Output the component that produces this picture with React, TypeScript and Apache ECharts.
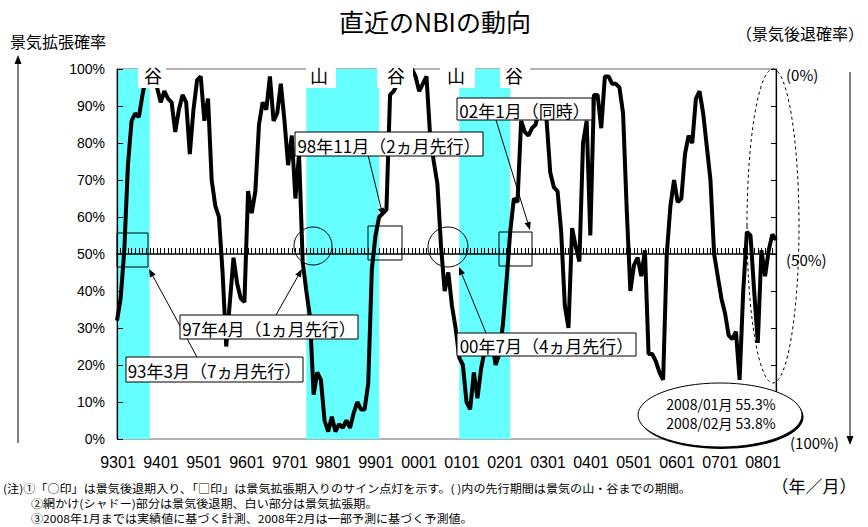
import React, { useEffect, useRef } from "react";
import * as echarts from "echarts";

// NBI monthly readings (%), one array per year
const v1993 = [32, 38, 51, 74, 86, 88, 87, 93, 98, 99, 97, 95];
const v1994 = [91, 94, 92, 91, 83, 89, 93, 91, 77, 89, 97, 98];
const v1995 = [86, 92, 70, 63, 60, 45, 25, 37, 49, 42, 38, 37];
const v1996 = [67, 61, 67, 85, 91, 89, 98, 86, 88, 96, 86, 74];
const v1997 = [82, 65, 77, 48, 40, 33, 12, 18, 16, 5, 2, 6];
const v1998 = [2, 4, 3, 5, 3, 7, 10, 8, 8, 15, 46, 55];
const v1999 = [60, 61, 62, 93, 94, 96, 97, 98, 99, 100, 98, 94];
const v2000 = [96, 98, 82, 75, 69, 52, 40, 45, 36, 30, 22, 20];
const v2001 = [10, 8, 18, 11, 19, 24, 23, 26, 20, 23, 31, 43];
const v2002 = [56, 65, 64, 86, 83, 82, 84, 85, 90, 90, 86, 72];
const v2003 = [68, 67, 56, 36, 30, 57, 52, 48, 80, 86, 55, 93];
const v2004 = [93, 84, 98, 98, 96, 96, 95, 88, 62, 40, 47, 49];
const v2005 = [44, 51, 23, 23, 21, 18, 16, 50, 63, 70, 64, 65];
const v2006 = [77, 82, 80, 92, 94, 88, 79, 70, 50, 44, 38, 34];
const v2007 = [28, 27, 29, 16, 40, 56, 55, 40, 26, 51, 44, 51];
const v2008 = [55.3, 53.8];

const yearly = [v1993, v1994, v1995, v1996, v1997, v1998, v1999, v2000,
  v2001, v2002, v2003, v2004, v2005, v2006, v2007, v2008];
const firstYear = 1993;

// recession periods (peak -> trough), shaded
const recessions: [string, string][] = [
  ["9301", "9310"],
  ["9705", "9901"],
  ["0011", "0201"],
];

// turning-point marks along the top edge
const turnLabels = [
  { text: "谷", x: 153, box: [138, 28] },
  { text: "山", x: 319, box: [306, 30] },
  { text: "谷", x: 396, box: [377, 36] },
  { text: "山", x: 456, box: [440, 35] },
  { text: "谷", x: 514, box: [500, 30] },
];

const months: string[] = [];
const values: number[] = [];
yearly.forEach((arr, k) => {
  const yy = String(firstYear + k).slice(2);
  arr.forEach((v, m) => {
    months.push(yy + String(m + 1).padStart(2, "0"));
    values.push(v);
  });
});
// January of each year, shown under the axis
const yearTicks = months.filter((m) => m.endsWith("01"));

const JP = "'Noto Sans CJK JP', 'Noto Sans', sans-serif";
const LAT = "'Liberation Sans', Arial, sans-serif";

function arrow(x1: number, y1: number, x2: number, y2: number) {
  const a = Math.atan2(y2 - y1, x2 - x1);
  const L = 8, W = 3.2;
  const bx = x2 - L * Math.cos(a), by = y2 - L * Math.sin(a);
  const px = -Math.sin(a) * W, py = Math.cos(a) * W;
  return [
    { type: "line", z: 20, shape: { x1, y1, x2: bx, y2: by }, style: { stroke: "#000", lineWidth: 1 } },
    { type: "polygon", z: 20, shape: { points: [[x2, y2], [bx + px, by + py], [bx - px, by - py]] }, style: { fill: "#000" } },
  ];
}

function callout(text: string, x: number, y: number, w: number, h: number) {
  return [
    { type: "rect", z: 21, shape: { x, y, width: w, height: h }, style: { fill: "#fff", stroke: "#000", lineWidth: 1 } },
    { type: "text", z: 22, x: x + w / 2, y: y + h / 2 + 1, style: { text, fontSize: 17, fontFamily: JP, fill: "#000", align: "center", verticalAlign: "middle" } },
  ];
}

export default function App() {
  const ref = useRef<HTMLDivElement>(null);
  useEffect(() => {
    if (!ref.current) return;
    const chart = echarts.init(ref.current, null, { renderer: "svg" });

    const graphics: any[] = [];
    // title and axis captions
    graphics.push({ type: "text", z: 30, x: 435, y: 21, style: { text: "直近のNBIの動向", fontSize: 25, fontFamily: JP, fill: "#000", align: "center", verticalAlign: "middle" } });
    graphics.push({ type: "text", z: 30, x: 10, y: 41, style: { text: "景気拡張確率", fontSize: 16, fontFamily: JP, fill: "#000", align: "left", verticalAlign: "middle" } });
    graphics.push({ type: "text", z: 30, x: 800, y: 33, style: { text: "（景気後退確率）", fontSize: 16, fontFamily: JP, fill: "#000", align: "center", verticalAlign: "middle" } });
    // direction arrows
    graphics.push({ type: "line", z: 30, shape: { x1: 18, y1: 443, x2: 18, y2: 62 }, style: { stroke: "#000", lineWidth: 1 } });
    graphics.push({ type: "polygon", z: 30, shape: { points: [[18, 55], [14.5, 64], [21.5, 64]] }, style: { fill: "#000" } });
    graphics.push({ type: "line", z: 30, shape: { x1: 850, y1: 72, x2: 850, y2: 437 }, style: { stroke: "#000", lineWidth: 1 } });
    graphics.push({ type: "polygon", z: 30, shape: { points: [[850, 445], [846.5, 436], [853.5, 436]] }, style: { fill: "#000" } });
    // right-hand scale captions
    graphics.push({ type: "text", z: 30, x: 786, y: 74, style: { text: "(0%)", fontSize: 15, fontFamily: JP, fill: "#000", align: "left", verticalAlign: "middle" } });
    graphics.push({ type: "text", z: 30, x: 786, y: 259, style: { text: "(50%)", fontSize: 15, fontFamily: JP, fill: "#000", align: "left", verticalAlign: "middle" } });
    graphics.push({ type: "text", z: 30, x: 790, y: 442, style: { text: "(100%)", fontSize: 15, fontFamily: JP, fill: "#000", align: "left", verticalAlign: "middle" } });
    graphics.push({ type: "text", z: 30, x: 814, y: 485, style: { text: "（年／月）", fontSize: 17, fontFamily: JP, fill: "#000", align: "center", verticalAlign: "middle" } });

    // peak / trough marks on the top edge
    turnLabels.forEach((t) => {
      graphics.push({ type: "rect", z: 15, shape: { x: t.box[0], y: 58, width: t.box[1], height: 30 }, style: { fill: "#fff" } });
      graphics.push({ type: "text", z: 16, x: t.x, y: 75, style: { text: t.text, fontSize: 18, fontFamily: JP, fill: "#000", align: "center", verticalAlign: "middle" } });
    });

    // signal marks on the 50% line
    const sq = (x: number, y: number, w: number, h: number) => ({ type: "rect", z: 18, shape: { x, y, width: w, height: h }, style: { fill: "none", stroke: "#000", lineWidth: 1 } });
    const ci = (cx: number, cy: number, r: number) => ({ type: "circle", z: 18, shape: { cx, cy, r }, style: { fill: "none", stroke: "#000", lineWidth: 1 } });
    graphics.push(sq(117, 233, 31, 34));
    graphics.push(ci(313, 246, 19));
    graphics.push(sq(368, 226, 34, 34));
    graphics.push(ci(448, 247, 20));
    graphics.push(sq(499, 232, 33, 34));

    // callouts
    graphics.push(...arrow(197, 357, 149, 269));
    graphics.push(...callout("93年3月（7ヵ月先行）", 126, 357, 177, 25));
    graphics.push(...arrow(276, 315, 302, 269));
    graphics.push(...callout("97年4月（1ヵ月先行）", 180, 315, 178, 24));
    graphics.push(...arrow(368, 155, 383, 216));
    graphics.push(...callout("98年11月（2ヵ月先行）", 295, 132, 188, 24));
    graphics.push(...arrow(486, 333, 459, 267));
    graphics.push(...callout("00年7月（4ヵ月先行）", 457, 333, 179, 23));
    graphics.push(...arrow(496, 120, 530, 230));
    graphics.push(...callout("02年1月（同時）", 457, 98, 135, 22));

    // latest-reading ellipses
    graphics.push({ type: "ellipse", z: 19, shape: { cx: 773, cy: 226, rx: 26, ry: 157 }, style: { fill: "none", stroke: "#000", lineWidth: 1, lineDash: [3, 3] } });
    graphics.push({ type: "ellipse", z: 23, shape: { cx: 721.5, cy: 417, rx: 82, ry: 32 }, style: { fill: "#000" } });
    graphics.push({ type: "ellipse", z: 24, shape: { cx: 720, cy: 415, rx: 82, ry: 32 }, style: { fill: "#fff", stroke: "#000", lineWidth: 1 } });
    const n = values.length;
    graphics.push({ type: "text", z: 25, x: 721, y: 404, style: { text: `2008/01月 ${values[n - 2].toFixed(1)}%`, fontSize: 14, fontFamily: JP, fill: "#000", align: "center", verticalAlign: "middle" } });
    graphics.push({ type: "text", z: 25, x: 721, y: 423, style: { text: `2008/02月 ${values[n - 1].toFixed(1)}%`, fontSize: 14, fontFamily: JP, fill: "#000", align: "center", verticalAlign: "middle" } });

    // footnotes (slightly widened, narrow line pitch)
    const notes = [
      { x: 3, y: 488, t: "(注)①「○印」は景気後退期入り、「□印」は景気拡張期入りのサイン点灯を示す。( )内の先行期間は景気の山・谷までの期間。" },
      { x: 31, y: 503, t: "②網かけ(シャドー)部分は景気後退期、白い部分は景気拡張期。" },
      { x: 31, y: 518, t: "③2008年1月までは実績値に基づく計測、2008年2月は一部予測に基づく予測値。" },
    ];
    notes.forEach((nt) => graphics.push({ type: "text", z: 30, x: nt.x, y: nt.y, scaleX: 1.1, style: { text: nt.t, fontSize: 11, fontFamily: JP, fill: "#000", align: "left", verticalAlign: "middle" } }));

    chart.setOption({
      animation: false,
      grid: [
        { left: 117, right: 92, top: 69, bottom: 88, show: true, borderColor: "#666", borderWidth: 1 },
        { left: 117, right: 92, top: 69, height: 185, show: false },
        { left: 118, right: 105, top: 69, bottom: 88, show: false },
      ],
      xAxis: [
        {
          type: "category", gridIndex: 0, data: months, boundaryGap: false, z: 3,
          axisLine: { show: false }, axisTick: { show: false }, axisLabel: { show: false },
        },
        {
          type: "category", gridIndex: 1, data: months, boundaryGap: false, z: 3,
          axisLine: { show: true, lineStyle: { color: "#000", width: 1.5 } },
          axisTick: { show: true, inside: true, length: 6, interval: 0, lineStyle: { color: "#000", width: 1 } },
          axisLabel: { show: false },
        },
        {
          type: "category", gridIndex: 2, data: yearTicks, boundaryGap: false,
          axisLine: { show: false }, axisTick: { show: false },
          axisLabel: { interval: 0, fontSize: 16, color: "#000", margin: 15, fontFamily: LAT },
        },
      ],
      yAxis: [
        {
          type: "value", gridIndex: 0, min: 0, max: 100, interval: 10, z: 3,
          axisLine: { show: true, lineStyle: { color: "#000", width: 1.2 } },
          axisTick: { show: true, inside: true, length: 6, lineStyle: { color: "#000" } },
          axisLabel: { formatter: "{value}%", fontSize: 14, color: "#000", margin: 12, fontFamily: LAT },
          splitLine: { show: false },
        },
        {
          type: "value", gridIndex: 0, position: "right", min: 0, max: 100, interval: 10, z: 3,
          axisLine: { show: true, lineStyle: { color: "#000", width: 1.2 } },
          axisTick: { show: true, inside: true, length: 5, lineStyle: { color: "#000" } },
          axisLabel: { show: false },
          splitLine: { show: false },
        },
        { type: "value", gridIndex: 1, min: 0, max: 1, show: false },
        { type: "value", gridIndex: 2, min: 0, max: 1, show: false },
      ],
      series: [
        {
          type: "line", xAxisIndex: 0, yAxisIndex: 0, data: values, z: 1, symbol: "none", silent: true,
          lineStyle: { opacity: 0 },
          markArea: {
            silent: true,
            itemStyle: { color: "#66FFFF" },
            data: recessions.map(([a, b]) => [{ xAxis: a }, { xAxis: b }]),
          },
        },
        {
          type: "line", xAxisIndex: 0, yAxisIndex: 0, data: values, z: 4, symbol: "none",
          lineStyle: { color: "#000", width: 4 },
        },
      ],
      graphic: graphics,
    });
    return () => chart.dispose();
  }, []);
  return <div ref={ref} style={{ position: "absolute", left: 0, top: 0, width: 868, height: 527 }} />;
}
